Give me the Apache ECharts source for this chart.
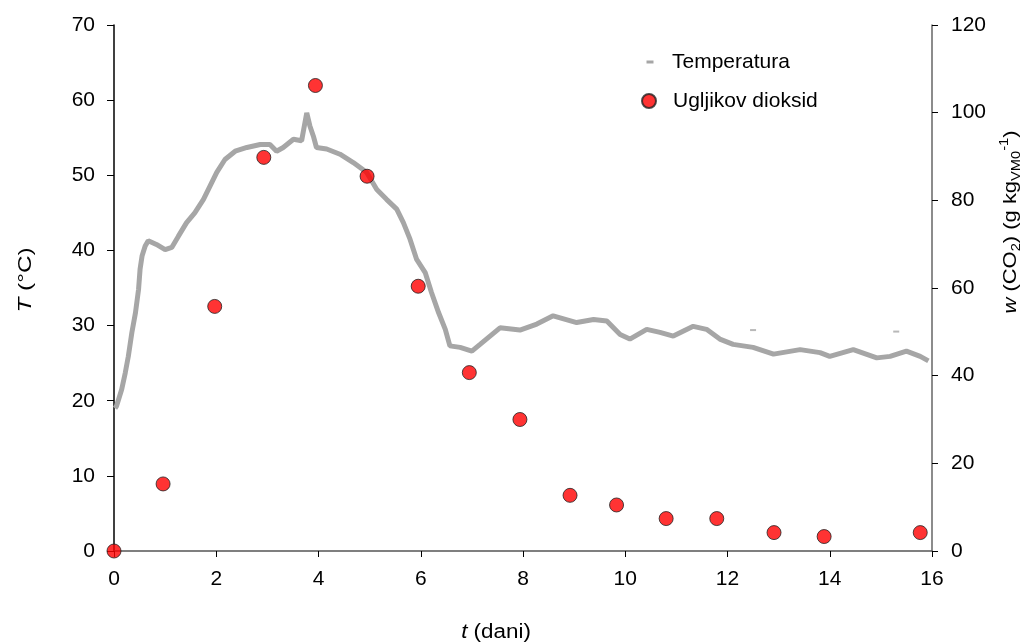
<!DOCTYPE html>
<html>
<head>
<meta charset="utf-8">
<script src="https://cdn.jsdelivr.net/npm/echarts@6/dist/echarts.min.js"></script>
<style>
html,body{margin:0;padding:0;background:#fff;}
#c{width:1026px;height:642px;}
</style>
</head>
<body>
<div id="c"></div>
<script>
// Temperature readings: [t (days), T (°C)]
const tempData = [
  [0.02,19.0],[0.05,19.3],[0.15,21.5],[0.22,23.7],[0.28,25.9],[0.35,29.1],[0.42,31.7],
  [0.48,34.8],[0.51,37.5],[0.55,39.3],[0.61,40.6],[0.67,41.3],[0.83,40.8],[1.0,40.1],
  [1.13,40.4],[1.26,41.9],[1.42,43.7],[1.58,45.0],[1.75,46.8],[1.88,48.6],[2.01,50.4],
  [2.17,52.1],[2.37,53.2],[2.6,53.7],[2.86,54.1],[3.05,54.1],[3.18,53.2],[3.31,53.7],
  [3.51,54.8],[3.67,54.6],[3.77,58.3],[3.83,56.6],[3.9,55.2],[3.96,53.7],[4.16,53.5],
  [4.42,52.8],[4.68,51.7],[4.94,50.4],[5.14,48.1],[5.33,46.8],[5.53,45.5],[5.66,43.7],
  [5.79,41.5],[5.92,38.8],[6.09,37.0],[6.21,34.4],[6.35,31.7],[6.48,29.5],[6.57,27.3],
  [6.77,27.1],[7.0,26.6],[7.16,27.5],[7.55,29.7],[7.94,29.4],[8.27,30.2],[8.59,31.3],
  [9.05,30.4],[9.38,30.8],[9.64,30.6],[9.9,28.8],[10.09,28.2],[10.42,29.5],[10.68,29.1],
  [10.94,28.6],[11.33,29.9],[11.59,29.5],[11.85,28.2],[12.11,27.5],[12.5,27.1],[12.9,26.2],
  [13.42,26.8],[13.81,26.4],[14.0,25.9],[14.46,26.8],[14.92,25.7],[15.18,25.9],[15.5,26.6],
  [15.77,25.9],[15.93,25.3]
];
// Stray temperature readings
const tempStray = [[12.5,29.4],[15.3,29.2]];
// CO2 readings: [t (days), w (g/kg)]
const co2Data = [
  [0,0],[0.96,15.3],[1.97,55.8],[2.93,89.8],[3.94,106.2],[4.95,85.5],[5.95,60.4],
  [6.95,40.7],[7.94,30.0],[8.92,12.7],[9.83,10.5],[10.8,7.4],[11.79,7.4],[12.91,4.2],
  [13.89,3.3],[15.77,4.2]
];
const seriesNames = ['Temperatura','Ugljikov dioksid'];

const FONT = '"Liberation Sans", Arial, sans-serif';
const chart = echarts.init(document.getElementById('c'), null, {renderer:'canvas'});
const lbl = {color:'#000', fontSize:21, fontFamily:FONT};

chart.setOption({
  animation:false,
  backgroundColor:'#fff',
  grid:{left:114, right:94, top:25, bottom:91, containLabel:false},
  legend:[
    {data:[seriesNames[0]], left:641.5, top:46.5, icon:'rect', itemWidth:7, itemHeight:3,
     textStyle:{color:'#000', fontSize:21, fontFamily:FONT, padding:[0,0,0,13.5]}},
    {data:[seriesNames[1]], left:636, top:85.5, icon:'circle', itemWidth:14, itemHeight:14,
     textStyle:{color:'#000', fontSize:21, fontFamily:FONT, padding:[0,0,0,12]}}
  ],
  xAxis:{type:'value', min:0, max:16, interval:2,
    axisLine:{lineStyle:{color:'#555', width:1.5}},
    axisTick:{show:true, inside:false, length:6, lineStyle:{color:'#000'}},
    axisLabel:Object.assign({margin:18}, lbl),
    splitLine:{show:false}},
  yAxis:[
    {type:'value', min:0, max:70, interval:10, position:'left',
     axisLine:{show:true, lineStyle:{color:'#000', width:1.5}},
     axisTick:{show:true, inside:false, length:7, lineStyle:{color:'#000'}},
     axisLabel:Object.assign({margin:19}, lbl),
     splitLine:{show:false}},
    {type:'value', min:0, max:120, interval:20, position:'right',
     axisLine:{show:true, lineStyle:{color:'#666', width:1.5}},
     axisTick:{show:true, inside:false, length:6, lineStyle:{color:'#000'}},
     axisLabel:Object.assign({margin:19}, lbl),
     splitLine:{show:false}}
  ],
  graphic:[
    {type:'text', x:26, y:280, rotation:Math.PI/2, scaleX:1.28,
     style:{text:'{i|T} (°C)', font:'19px '+FONT, fill:'#000', align:'center', verticalAlign:'middle',
       rich:{i:{fontStyle:'italic', fontSize:19, fontFamily:FONT}}}},
    {type:'text', x:1011, y:222, rotation:Math.PI/2, scaleX:1.22,
     style:{text:'{i|w} (CO{sub|2}) (g kg{sub|VM0}{sup|-1})', font:'18px '+FONT, fill:'#000',
       align:'center', verticalAlign:'middle', lineHeight:24,
       rich:{i:{fontStyle:'italic', fontSize:18, fontFamily:FONT, lineHeight:24},
             sub:{fontSize:12, fontFamily:FONT, verticalAlign:'bottom', lineHeight:15},
             sup:{fontSize:12, fontFamily:FONT, verticalAlign:'top', lineHeight:15}}}},
    {type:'text', x:496, y:632, scaleX:1.12,
     style:{text:'{i|t} (dani)', font:'20px '+FONT, fill:'#000', align:'center', verticalAlign:'middle',
       rich:{i:{fontStyle:'italic', fontSize:20, fontFamily:FONT}}}}
  ],
  series:[
    {name:seriesNames[0], type:'line', yAxisIndex:0, data:tempData, showSymbol:false,
     symbol:'rect', itemStyle:{color:'#a6a6a6'},
     lineStyle:{color:'#a6a6a6', width:5}, z:2},
    {name:seriesNames[0], type:'scatter', yAxisIndex:0, data:tempStray, symbol:'rect',
     symbolSize:[6,2], itemStyle:{color:'#a6a6a6'}, z:2},
    {name:seriesNames[1], type:'scatter', yAxisIndex:1, data:co2Data, symbol:'circle',
     symbolSize:14, itemStyle:{color:'#ff0000', borderColor:'#222', borderWidth:1}, z:5}
  ]
});
</script>
</body>
</html>
